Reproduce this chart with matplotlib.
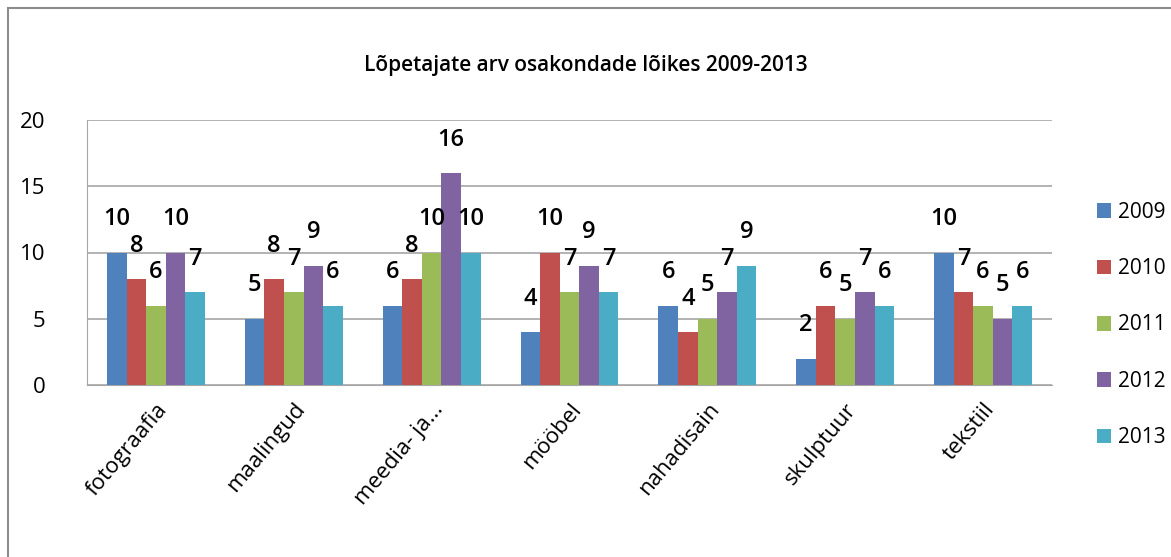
import numpy as np
from matplotlib import pyplot as plt
from matplotlib.patches import Rectangle

categories = ['fotograafia', 'maalingud', 'meedia- ja...', 'mööbel', 'nahadisain', 'skulptuur', 'tekstiil']
years = ['2009', '2010', '2011', '2012', '2013']
values_2009 = [10, 5, 6, 4, 6, 2, 10]
values_2010 = [8, 8, 8, 10, 4, 6, 7]
values_2011 = [6, 7, 10, 7, 5, 5, 6]
values_2012 = [10, 9, 16, 9, 7, 7, 5]
values_2013 = [7, 6, 10, 7, 9, 6, 6]
series = [values_2009, values_2010, values_2011, values_2012, values_2013]
colors = ['#4F81BD', '#C0504D', '#9BBB59', '#8064A2', '#4BACC6']

plt.rcParams['font.family'] = ['Open Sans', 'DejaVu Sans']

fig = plt.figure(figsize=(11.71, 5.57), dpi=100)
ax = fig.add_axes([87 / 1171, 1 - 385 / 557, (1052 - 87) / 1171, (385 - 120) / 557])

# outer chart frame
fig.patches.append(Rectangle((8 / 1171, -0.05), 1.1, 1 - 8 / 557 + 0.05, transform=fig.transFigure,
                             fill=False, edgecolor='#8c8c8c', linewidth=1.5))

x = np.arange(len(categories))
width = 0.142
for i, (vals, year, color) in enumerate(zip(series, years, colors)):
    pos = x + (i - 2) * width
    ax.bar(pos, vals, width, color=color, label=year, zorder=3)
    for p, v in zip(pos, vals):
        ax.annotate(str(v), (p, v), xytext=(0, 24), textcoords='offset points',
                    ha='center', va='center', fontsize=17, fontweight='semibold', zorder=4)

ax.set_ylim(0, 20)
ax.set_xlim(-0.5, len(categories) - 0.5)
ax.set_yticks([0, 5, 10, 15, 20])
ax.tick_params(axis='y', length=0, labelsize=16, pad=30)
ax.set_xticks(x)
ax.set_xticklabels(categories, rotation=50, ha='right', rotation_mode='anchor', fontsize=16)
ax.tick_params(axis='x', length=0, pad=10)
ax.grid(axis='y', color='#a6a6a6', linewidth=1.2, zorder=0)
for side in ['top', 'right']:
    ax.spines[side].set_visible(False)
ax.spines['left'].set_color('#a6a6a6')
ax.spines['bottom'].set_color('#a6a6a6')

fig.text(0.5, 1 - 65 / 557, 'Lõpetajate arv osakondade lõikes 2009-2013', ha='center', va='center',
         fontsize=15, fontweight='semibold')

fig.legend(loc='center left', bbox_to_anchor=(1078 / 1171, 1 - 325 / 557), frameon=False,
           fontsize=15, handlelength=0.7, handleheight=0.7, handletextpad=0.3, labelspacing=1.7)

fig.savefig('out.png', dpi=100)
